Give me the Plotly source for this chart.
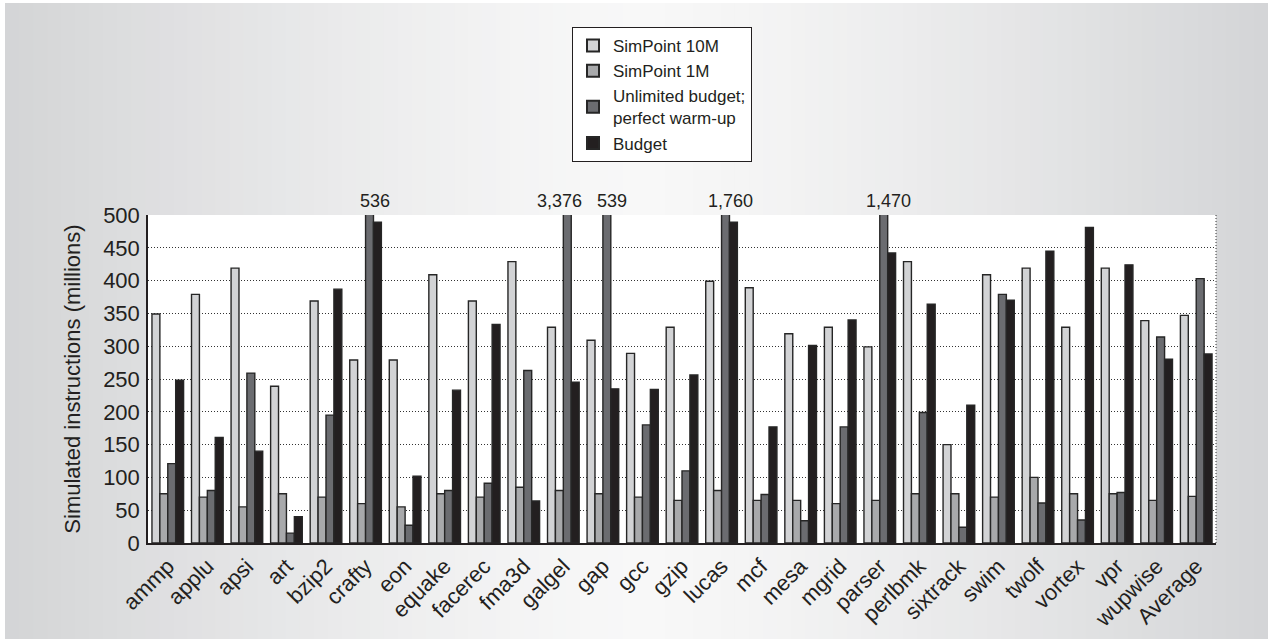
import plotly.graph_objects as go

categories = ["ammp", "applu", "apsi", "art", "bzip2", "crafty", "eon", "equake",
              "facerec", "fma3d", "galgel", "gap", "gcc", "gzip", "lucas", "mcf",
              "mesa", "mgrid", "parser", "perlbmk", "sixtrack", "swim", "twolf",
              "vortex", "vpr", "wupwise", "Average"]

simpoint_10m = [349, 379, 419, 239, 369, 279, 279, 409, 369, 429, 329, 309, 289, 329,
                399, 389, 319, 329, 299, 429, 150, 409, 419, 329, 419, 339, 347]
simpoint_1m = [75, 70, 55, 75, 70, 60, 55, 75, 70, 85, 80, 75, 70, 65,
               80, 65, 65, 60, 65, 75, 75, 70, 100, 75, 75, 65, 71]
unlimited = [121, 80, 259, 15, 195, 536, 27, 80, 91, 263, 3376, 539, 180, 110,
             1760, 74, 34, 177, 1470, 199, 24, 379, 61, 35, 77, 314, 403]
budget = [248, 161, 140, 40, 387, 489, 102, 233, 333, 64, 245, 235, 234, 256,
          489, 177, 301, 340, 442, 364, 210, 370, 445, 481, 424, 280, 288]

series_names = ["SimPoint 10M", "SimPoint 1M", "Unlimited budget;<br>perfect warm-up", "Budget"]
series_values = [simpoint_10m, simpoint_1m, unlimited, budget]
series_colors = ["#d2d3d5", "#a8a9ab", "#6b6c70", "#231f20"]

y_max = 500
FONT = "Liberation Sans, Arial, Helvetica, sans-serif"
TXT = "#231f20"

fig = go.Figure()
for name, vals, col in zip(series_names, series_values, series_colors):
    fig.add_trace(go.Bar(
        x=categories, y=vals, name=name,
        marker=dict(color=col, line=dict(color="#262626", width=1.4)),
    ))

# labels for off-scale values
for i, (cat, v) in enumerate(zip(categories, unlimited)):
    if v > y_max:
        crowded = i + 1 < len(unlimited) and unlimited[i + 1] > y_max
        fig.add_annotation(x=cat, y=y_max, yref="y", text=f"{v:,}",
                           showarrow=False, yanchor="bottom", yshift=2,
                           xshift=-4 if crowded else 9,
                           font=dict(size=18, color=TXT, family=FONT))

# background gradient (horizontal)
W, H = 1268, 639
L, R, T, B = 148, 52, 215, 96
pw, ph = W - L - R, H - T - B

def px2fx(px):
    return (px - L) / pw

def py2fy(py):
    return (H - B - py) / ph

shapes = []
n = 90
x0p, x1p = 5, W
center = 640
for i in range(n):
    a = x0p + (x1p - x0p) * i / n
    b = x0p + (x1p - x0p) * (i + 1) / n + 1
    mid = (a + b) / 2
    d = abs(mid - center) / (center - x0p)
    d = min(d, 1.0)
    t = d ** 1.3
    c0, c1 = (248, 248, 248), (211, 212, 214)
    c = tuple(int(round(c0[k] + (c1[k] - c0[k]) * t)) for k in range(3))
    shapes.append(dict(type="rect", xref="paper", yref="paper",
                       x0=px2fx(a), x1=px2fx(b), y0=py2fy(H + 20), y1=py2fy(3),
                       fillcolor=f"rgb{c}", line=dict(width=0), layer="below"))
shapes.append(dict(type="rect", xref="paper", yref="paper", x0=0, x1=1, y0=0, y1=1,
                   fillcolor="white", line=dict(width=0), layer="below"))
shapes.append(dict(type="line", xref="paper", yref="paper", x0=1, x1=1, y0=0, y1=1,
                   line=dict(color="#333333", width=1, dash="1px,2px")))

fig.update_layout(
    width=W, height=H,
    margin=dict(l=L, r=R, t=T, b=B),
    paper_bgcolor="white",
    plot_bgcolor="white",
    barmode="group",
    bargap=0.2,
    bargroupgap=0,
    font=dict(family=FONT, color=TXT, size=22),
    shapes=shapes,
    showlegend=True,
    legend=dict(
        x=px2fx(572), y=py2fy(27), xanchor="left", yanchor="top",
        bgcolor="white", bordercolor="#231f20", borderwidth=1,
        font=dict(size=17, family=FONT, color=TXT),
        tracegroupgap=0, itemsizing="constant", itemwidth=30,
    ),
    xaxis=dict(
        tickangle=-45, tickfont=dict(size=22), automargin=False,
        showline=True, linecolor="#231f20", linewidth=1.5,
        showgrid=False, ticks="", range=[-0.5, len(categories) - 0.5],
    ),
    yaxis=dict(
        range=[0, y_max], dtick=50, tickfont=dict(size=22), automargin=False,
        showline=True, linecolor="#231f20", linewidth=1.5,
        showgrid=True, gridcolor="#333333", gridwidth=1, griddash="1px,2px",
        zeroline=False, ticks="", ticklabelstandoff=2,
        title=dict(text="Simulated instructions (millions)", font=dict(size=22), standoff=16),
    ),
)

fig.write_html("out.html", config={"displayModeBar": False},
               post_script="document.body.style.margin='0px';document.body.style.padding='0px';")
